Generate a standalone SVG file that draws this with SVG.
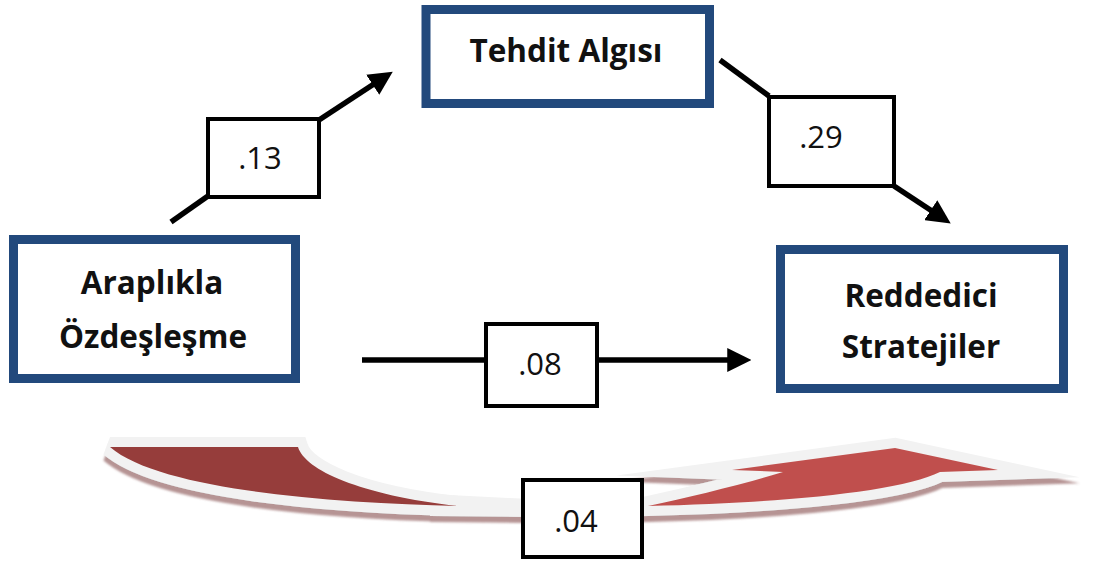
<svg xmlns="http://www.w3.org/2000/svg" width="1120" height="563" viewBox="0 0 1120 563">
<defs>
<style>
.node{fill:#fff;stroke:#22497c;stroke-width:9}
.title{font-family:"Open Sans","Liberation Sans",sans-serif;font-weight:bold;font-size:31.5px;fill:#111;text-anchor:middle}
.lbl{fill:#fff;stroke:#000;stroke-width:4}
.num{font-family:"Open Sans","Liberation Sans",sans-serif;font-size:31px;fill:#111;text-anchor:middle}
.conn{stroke:#000;stroke-width:5.5;fill:none}
.band{stroke:#f2f2f2;stroke-width:20;paint-order:stroke;stroke-linejoin:miter}
</style>
<marker id="ah" markerUnits="userSpaceOnUse" markerWidth="24" markerHeight="24" viewBox="0 0 22 22" refX="8" refY="11" orient="auto">
<path d="M0,0 L22,11 L0,22 Z" fill="#000"/>
</marker>
<filter id="sh" x="-10%" y="-30%" width="120%" height="170%">
<feOffset in="SourceAlpha" dx="0" dy="6" result="o"/>
<feFlood flood-color="#8e5a5a" flood-opacity="0.65"/>
<feComposite in2="o" operator="in"/>
<feGaussianBlur stdDeviation="0.8"/>
<feMerge><feMergeNode/><feMergeNode in="SourceGraphic"/></feMerge>
</filter>
</defs>
<rect width="1120" height="563" fill="#fff"/>

<g id="curved-arrow" filter="url(#sh)">
<path fill="#f2f2f2" d="M430,494 L530,499 L530,517 L430,516 Z"/>
<path class="band" style="stroke-miterlimit:2" fill="#963c3a" d="M110,447 L298,447 C305,470 360,495 458,506 C330,503 160,490 110,447 Z"/>
<path class="band" style="stroke-miterlimit:12" fill="#c0504d" d="M648,506 C690,497 740,485 783,472 L732,470 L895,448 L998,470 L940,472 C900,492 780,503 648,506 Z"/>
</g>

<g id="connectors">
<line class="conn" x1="171" y1="222" x2="208" y2="196"/>
<line class="conn" x1="319" y1="120" x2="380" y2="80" marker-end="url(#ah)"/>
<line class="conn" x1="720" y1="60" x2="769" y2="96"/>
<line class="conn" x1="894" y1="186" x2="938" y2="215" marker-end="url(#ah)"/>
<line class="conn" x1="362" y1="360" x2="486" y2="360"/>
<line class="conn" x1="597" y1="360" x2="736" y2="360" marker-end="url(#ah)"/>
</g>

<g id="label-13"><rect class="lbl" x="208" y="119" width="111" height="78"/><text class="num" x="260" y="169">.13</text></g>
<g id="label-29"><rect class="lbl" x="769" y="97" width="125" height="89"/><text class="num" x="821" y="148">.29</text></g>
<g id="label-08"><rect class="lbl" x="486" y="324" width="111" height="82"/><text class="num" x="540" y="375">.08</text></g>
<g id="label-04"><rect class="lbl" x="523" y="480" width="119" height="77"/><text class="num" x="576" y="532">.04</text></g>

<g id="node-araplikla">
<rect class="node" x="13.5" y="239.5" width="282" height="139"/>
<text class="title" x="152" y="294">Araplıkla</text>
<text class="title" x="153" y="348">Özdeşleşme</text>
</g>
<g id="node-tehdit">
<rect class="node" x="426" y="9.5" width="283.5" height="94"/>
<text class="title" x="566" y="62">Tehdit Algısı</text>
</g>
<g id="node-reddedici">
<rect class="node" x="780.5" y="249.5" width="283" height="139"/>
<text class="title" x="921" y="307">Reddedici</text>
<text class="title" x="921" y="358">Stratejiler</text>
</g>
</svg>
